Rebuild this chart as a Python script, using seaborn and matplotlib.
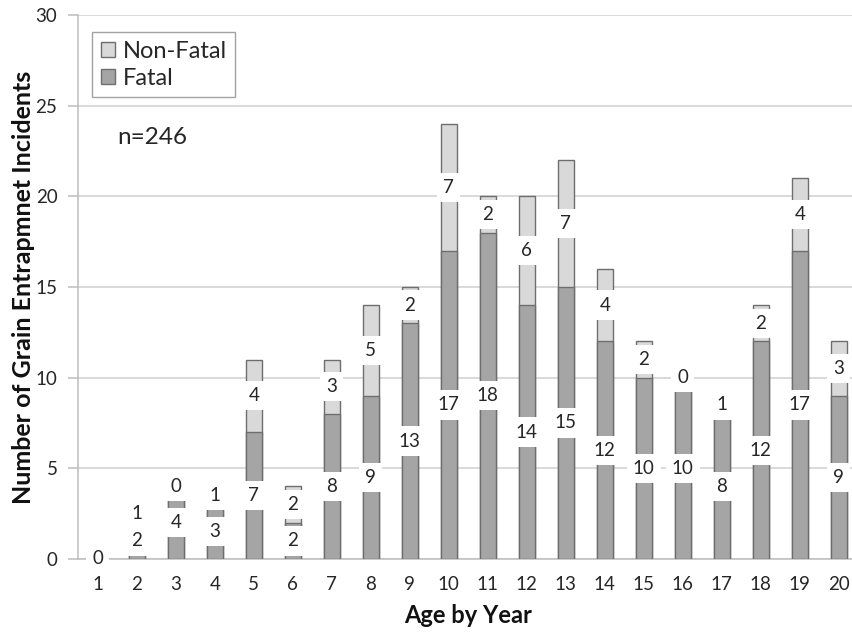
import matplotlib
matplotlib.use("Agg")
import matplotlib.pyplot as plt
from matplotlib.patches import Patch
import seaborn as sns
import pandas as pd

ages = [str(a) for a in range(1, 21)]
fatal = [0, 2, 4, 3, 7, 2, 8, 9, 13, 17, 18, 14, 15, 12, 10, 10, 8, 12, 17, 9]
non_fatal = [0, 1, 0, 1, 4, 2, 3, 5, 2, 7, 2, 6, 7, 4, 2, 0, 1, 2, 4, 3]
y_ticks = [0, 5, 10, 15, 20, 25, 30]

df = pd.DataFrame({"age": ages, "fatal": fatal, "non_fatal": non_fatal})
df["total"] = df["fatal"] + df["non_fatal"]

sns.set_style("white")
plt.rcParams["font.family"] = ["Lato", "DejaVu Sans"]

FATAL_C = "#a5a5a5"
NONFATAL_C = "#d9d9d9"
EDGE_C = "#6e6e6e"
GRID_C = "#cfcfcf"
TEXT_C = "#262626"

fig = plt.figure(figsize=(8.53, 6.33), dpi=100)
W, H = 853, 633
ax = fig.add_axes([78.3 / W, 1 - 559 / H, 780 / W, 544 / H])

# stacked bars: total (non-fatal on top) drawn first, fatal part over it
sns.barplot(data=df, x="age", y="total", color=NONFATAL_C, width=0.41,
            edgecolor=EDGE_C, linewidth=1.0, saturation=1, ax=ax, zorder=2)
sns.barplot(data=df, x="age", y="fatal", color=FATAL_C, width=0.41,
            edgecolor=EDGE_C, linewidth=1.0, saturation=1, ax=ax, zorder=3)

ax.set_ylim(0, 30)
ax.set_xlim(-0.5, len(ages) - 0.5)
ax.set_yticks(y_ticks)
ax.yaxis.grid(True, color=GRID_C, linewidth=1.1, zorder=0)
ax.set_axisbelow(True)

for s in ["top", "right"]:
    ax.spines[s].set_visible(False)
for s in ["left", "bottom"]:
    ax.spines[s].set_color("#bdbdbd")
    ax.spines[s].set_linewidth(1.1)

# value labels centred in each segment
box = dict(boxstyle="square,pad=0.33", fc="white", ec="none")
for i, (f, nf) in enumerate(zip(fatal, non_fatal)):
    ax.text(i, f / 2, str(f), ha="center", va="center", fontsize=13.5,
            color=TEXT_C, bbox=box, zorder=5)
    ax.text(i, f + nf / 2, str(nf), ha="center", va="center", fontsize=13.5,
            color=TEXT_C, bbox=box, zorder=5)

# x ticks at category boundaries, labels at centres
ax.set_xticks([i + 0.5 for i in range(len(ages))], minor=True)
ax.tick_params(axis="x", which="major", length=0, pad=12, labelsize=13.5,
               labelcolor=TEXT_C)
ax.tick_params(axis="x", which="minor", length=6, color="#bdbdbd", width=1.1)
ax.tick_params(axis="y", length=7, color="#bdbdbd", width=1.1, pad=8,
               labelsize=13.5, labelcolor=TEXT_C, left=True)

ax.set_xlabel("Age by Year", fontsize=17, fontweight="bold", color="#111111",
              labelpad=8)
ax.set_ylabel("Number of Grain Entrapmnet Incidents", fontsize=18,
              fontweight="bold", color="#111111", labelpad=0)

handles = [Patch(facecolor=NONFATAL_C, edgecolor=EDGE_C, label="Non-Fatal"),
           Patch(facecolor=FATAL_C, edgecolor=EDGE_C, label="Fatal")]
leg = ax.legend(handles=handles, loc="upper left",
                bbox_to_anchor=(0.018, 0.968), fontsize=17, frameon=True,
                fancybox=False, edgecolor="#8c8c8c", handlelength=0.6,
                handleheight=0.6, handletextpad=0.35, borderpad=0.35,
                labelspacing=0.25, borderaxespad=0)
leg.get_frame().set_linewidth(1.0)
for t in leg.get_texts():
    t.set_color(TEXT_C)

ax.text(0.05, 0.775, "n=246", transform=ax.transAxes, fontsize=17.5,
        ha="left", va="center", color=TEXT_C)

fig.savefig("out.png", dpi=100)
